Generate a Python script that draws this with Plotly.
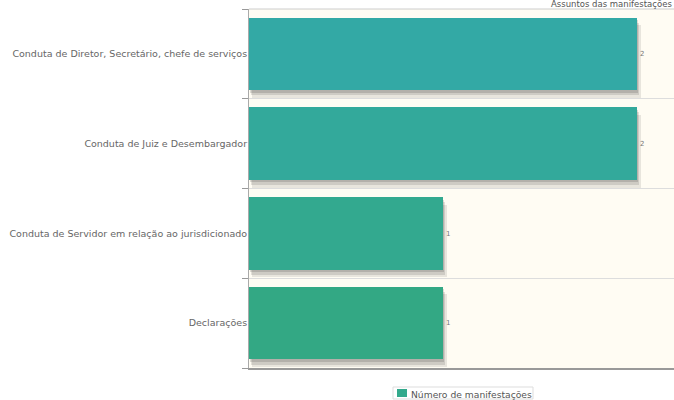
import plotly.graph_objects as go

categories = [
    "Conduta de Diretor, Secretário, chefe de serviços",
    "Conduta de Juiz e Desembargador",
    "Conduta de Servidor em relação ao jurisdicionado",
    "Declarações",
]
values = [2, 2, 1, 1]
series_name = "Número de manifestações"
title_text = "Assuntos das manifestações"
bar_colors = ["#33a9a5", "#33a99b", "#33a98f", "#33a884"]
legend_color = "#33a98c"

pos = list(range(len(categories)))
FONT = "DejaVu Sans"
PLOT_H = 359

fig = go.Figure()
# shadow layers
for k, a in [(0.012, 0.09), (0.008, 0.11), (0.004, 0.13)]:
    fig.add_trace(go.Bar(
        y=[p + k * 7 for p in pos], x=values, base=k * 1.5, orientation="h",
        width=0.81, marker=dict(color=f"rgba(0,0,0,{a})", line=dict(width=0)),
        showlegend=False, hoverinfo="skip",
    ))
fig.add_trace(go.Bar(
    y=pos, x=values, orientation="h", width=0.81, name=series_name,
    marker=dict(color=bar_colors, line=dict(width=0)),
    text=[str(v) for v in values], textposition="outside",
    textfont=dict(size=7, color="#777", family=FONT),
    cliponaxis=False, showlegend=False,
))

# legend drawn as box + swatch + text
leg_y = -(394 - 368) / PLOT_H
fig.add_shape(type="rect", xref="paper", yref="paper",
              x0=(393 - 249) / 425, x1=(533 - 249) / 425,
              y0=-(399 - 368) / PLOT_H, y1=-(387 - 368) / PLOT_H,
              line=dict(color="#dddddd", width=1), fillcolor="white", layer="above")
fig.add_shape(type="rect", xref="paper", yref="paper",
              x0=(397 - 249) / 425, x1=(407 - 249) / 425,
              y0=-(397 - 368) / PLOT_H, y1=-(389 - 368) / PLOT_H,
              line=dict(width=0), fillcolor=legend_color, layer="above")

fig.update_layout(
    width=674, height=400,
    margin=dict(l=249, r=0, t=9, b=32, autoexpand=False),
    paper_bgcolor="white", plot_bgcolor="#fffcf3",
    barmode="overlay", bargap=0,
    showlegend=False,
    font=dict(family=FONT, color="#666"),
    annotations=[
        dict(text=title_text, xref="paper", yref="paper",
             x=1, y=1 + 4.5 / PLOT_H, xanchor="right", yanchor="middle",
             showarrow=False, font=dict(family=FONT, size=8.5, color="#555")),
        dict(text=series_name, xref="paper", yref="paper",
             x=(409 - 249) / 425, y=leg_y, xanchor="left", yanchor="middle",
             showarrow=False, font=dict(family=FONT, size=9.2, color="#555")),
    ],
)
fig.update_xaxes(range=[0, 2.19], showgrid=False, zeroline=False, showticklabels=False,
                 showline=True, linecolor="#999", linewidth=2, ticks="", fixedrange=True,
                 automargin=False)
fig.update_yaxes(range=[3.5, -0.5], tickvals=pos, ticktext=categories, ticks="",
                 tickfont=dict(family=FONT, size=9.5, color="#666"),
                 showgrid=False, zeroline=False, showline=True, linecolor="#aaa", linewidth=1,
                 mirror=False, ticklabelstandoff=-1, automargin=False,
                 minor=dict(tickvals=[-0.5, 0.5, 1.5, 2.5, 3.5], ticks="outside", ticklen=6,
                            tickcolor="#999", showgrid=True, gridcolor="#dddddd", gridwidth=1))
fig.add_shape(type="line", xref="paper", yref="paper", x0=0, x1=1, y0=1, y1=1,
              line=dict(color="#cccccc", width=1))

fig.write_html("out.html", config={"displayModeBar": False},
               post_script="document.body.style.margin='0';document.body.style.overflow='hidden';")
